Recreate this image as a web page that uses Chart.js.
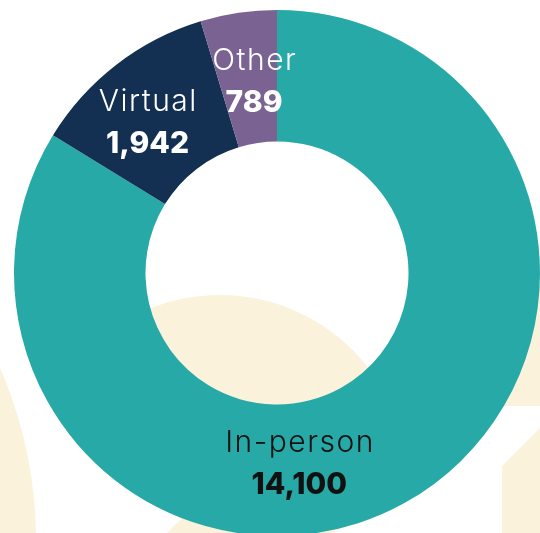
<!DOCTYPE html>
<html><head><meta charset="utf-8">
<script src="https://cdn.jsdelivr.net/npm/chart.js@4.4.1/dist/chart.umd.min.js"></script>
<style>html,body{margin:0;padding:0;background:#fff;overflow:hidden}</style>
</head><body>
<canvas id="c" width="540" height="533"></canvas>
<script>
const categories = ['In-person', 'Virtual', 'Other'];
const values = [14100, 1942, 789];
const sliceColors = ['#26A9A7', '#132F52', '#7A6392'];
const textColors = ['#111111', '#ffffff', '#ffffff'];
const BEIGE = '#FBF2DB';
const FONT = 'Inter, "DejaVu Sans", sans-serif';

// label placement relative to each slice centroid (dx, dy of the name baseline)
const labelShift = [[-74, 7], [-9, -6], [6, -8]];

const decor = {
  id: 'decor',
  beforeDraw(chart) {
    const ctx = chart.ctx;
    ctx.save();
    ctx.fillStyle = BEIGE;
    ctx.beginPath(); ctx.arc(-393, 540, 429, 0, Math.PI * 2); ctx.fill();
    ctx.fillRect(470, 285, 70, 121);
    ctx.beginPath(); ctx.moveTo(502, 540); ctx.lineTo(502, 466); ctx.lineTo(540, 428); ctx.lineTo(540, 540); ctx.closePath(); ctx.fill();
    ctx.save();
    ctx.beginPath(); ctx.arc(277, 273, 263, 0, Math.PI * 2); ctx.clip();
    ctx.beginPath(); ctx.arc(220, 482, 187, 0, Math.PI * 2); ctx.fill();
    ctx.restore();
    ctx.save();
    ctx.beginPath(); ctx.moveTo(160, 540); ctx.lineTo(335, 365); ctx.lineTo(335, 540); ctx.closePath(); ctx.clip();
    ctx.beginPath(); ctx.arc(220, 482, 187, 0, Math.PI * 2); ctx.fill();
    ctx.restore();
    ctx.restore();
  }
};

const sliceLabels = {
  id: 'sliceLabels',
  afterDatasetsDraw(chart) {
    const ctx = chart.ctx;
    const meta = chart.getDatasetMeta(0);
    ctx.save();
    ctx.textAlign = 'center';
    ctx.textBaseline = 'alphabetic';
    meta.data.forEach((arc, i) => {
      const p = arc.getProps(['x', 'y', 'startAngle', 'endAngle', 'innerRadius', 'outerRadius']);
      const a = (p.startAngle + p.endAngle) / 2;
      const r = (p.innerRadius + p.outerRadius) / 2;
      const x = p.x + Math.cos(a) * r + labelShift[i][0];
      const y = p.y + Math.sin(a) * r + labelShift[i][1];
      ctx.fillStyle = textColors[i];
      ctx.font = '300 30px ' + FONT;
      ctx.letterSpacing = '1.5px';
      ctx.fillText(categories[i], x + 0.75, y);
      ctx.letterSpacing = '0px';
      ctx.font = '800 30px ' + FONT;
      ctx.fillText(values[i].toLocaleString('en-US'), x, y + 42);
    });
    ctx.restore();
  }
};

new Chart(document.getElementById('c'), {
  type: 'doughnut',
  data: {
    labels: categories,
    datasets: [{
      data: values,
      backgroundColor: sliceColors,
      borderWidth: 0,
      radius: 263,
      cutout: '50%'
    }]
  },
  options: {
    responsive: false,
    animation: false,
    layout: { padding: { left: 14, top: 13, right: 0, bottom: 0 } },
    plugins: { legend: { display: false }, tooltip: { enabled: false } }
  },
  plugins: [decor, sliceLabels]
});
</script>
</body></html>
